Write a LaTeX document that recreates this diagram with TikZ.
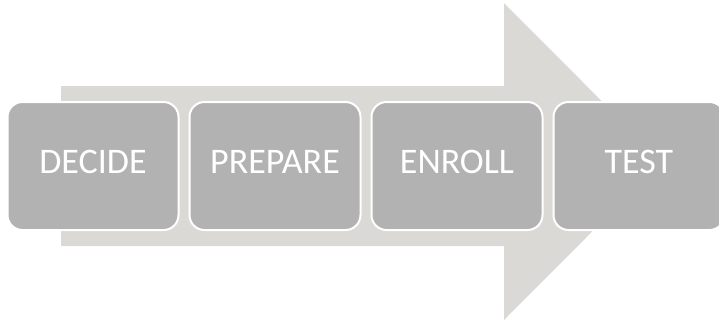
\documentclass[tikz,border=0pt]{standalone}
\usepackage{fontspec}
\setmainfont{Carlito}
\usetikzlibrary{positioning}
\definecolor{arrowgray}{RGB}{218,217,213}
\definecolor{stepgray}{RGB}{178,178,178}
\tikzset{
    stepbox/.style={draw=white, line width=1pt, fill=stepgray, rounded corners=7.5pt,
        minimum width=85.5pt, minimum height=64pt, text=white, text depth=4.5pt,
        font=\fontsize{18}{20}\selectfont, inner sep=0pt, outer sep=0pt}
}
\begin{document}
\begin{tikzpicture}[x=0.5pt, y=-0.5pt, node distance=5.5pt]
        \useasboundingbox (0, 0) rectangle (719, 323);

        % Draw the big arrow behind the steps
        \fill[arrowgray] (61, 86) -- (504, 86) -- (504, 3) -- (662, 161.5)
            -- (504, 320) -- (504, 246) -- (61, 246) -- cycle;

        % Draw the four steps
        \node[stepbox] (decide) at (93, 166) {DECIDE};
        \node[stepbox, right=of decide] (prepare) {PREPARE};
        \node[stepbox, right=of prepare] (enroll) {ENROLL};
        \node[stepbox, right=of enroll] (test) {TEST};
    \end{tikzpicture}
\end{document}
